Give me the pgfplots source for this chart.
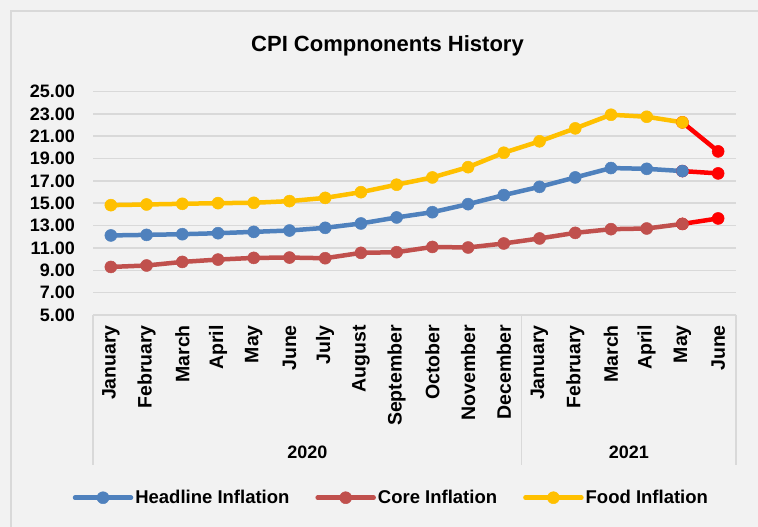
\documentclass[border=0pt]{standalone}
\usepackage{pgfplots}
\pgfplotsset{compat=1.18}
\usepackage{fontspec}
\setmainfont{Liberation Sans}
\definecolor{bg}{HTML}{F2F2F2}
\definecolor{gridc}{HTML}{D9D9D9}
\definecolor{cblue}{HTML}{4F81BD}
\definecolor{cred}{HTML}{C0504D}
\definecolor{cyel}{HTML}{FFC000}
\definecolor{hot}{HTML}{FF0000}
\begin{document}
\begin{tikzpicture}[x=1pt,y=1pt]
\useasboundingbox (0,0) rectangle (758,527);
\fill[bg] (0,0) rectangle (758,527);
\draw[gridc, line width=1.5pt] (11,-10) rectangle (780,516);
\node[font=\bfseries\fontsize{22}{26}\selectfont] at (387.5,481) {CPI Compnonents History};
\begin{axis}[
  at={(93pt,212pt)}, anchor=south west,
  width=643pt, height=223.5pt, scale only axis,
  xmin=-0.5, xmax=17.5, ymin=5, ymax=25,
  ytick={5,7,...,25},
  xtick={0,...,17},
  xticklabels={January,February,March,April,May,June,July,August,September,October,November,December,January,February,March,April,May,June},
  axis x line*=bottom, axis y line*=left,
  y axis line style={draw=none},
  x axis line style={gridc, line width=1.5pt},
  major tick length=0pt,
  ymajorgrids, major grid style={gridc, line width=1.5pt},
  xticklabel style={rotate=90, anchor=east, inner sep=0pt, font=\bfseries\fontsize{19.5}{21}\selectfont},
  xticklabel shift=10pt,
  yticklabel style={anchor=east, inner sep=0pt, font=\bfseries\fontsize{18}{20}\selectfont},
  yticklabel shift=18pt,
  /pgf/number format/.cd, fixed, fixed zerofill, precision=2, assume math mode=true,
  /pgfplots/.cd,
  clip=false,
  legend columns=3,
  legend style={draw=none, fill=none, at={(0.464,-0.8175)}, anchor=center,
    font=\bfseries\fontsize{18.5}{20}\selectfont,
    /tikz/every even column/.append style={column sep=24pt}},
  legend image code/.code={\draw[mark repeat=2,mark phase=2,#1] plot coordinates {(0pt,0pt) (28pt,0pt) (56pt,0pt)};},
  every axis plot/.append style={line width=4.5pt, line join=round, line cap=round, mark=*, mark size=6pt, mark options={line width=0.5pt}},
]
\addplot[hot, forget plot] coordinates {(16,17.88) (17,17.67)};
\addplot[hot, forget plot] coordinates {(16,13.15) (17,13.64)};
\addplot[hot, forget plot] coordinates {(16,22.24) (17,19.64)};
\addplot[cblue] coordinates {(0,12.12) (1,12.17) (2,12.23) (3,12.32) (4,12.44) (5,12.56) (6,12.80) (7,13.19) (8,13.73) (9,14.20) (10,14.92) (11,15.73) (12,16.47) (13,17.31) (14,18.15) (15,18.08) (16,17.88)};
\addlegendentry{Headline Inflation}
\addplot[cred] coordinates {(0,9.30) (1,9.43) (2,9.75) (3,9.96) (4,10.11) (5,10.14) (6,10.08) (7,10.56) (8,10.62) (9,11.09) (10,11.04) (11,11.40) (12,11.85) (13,12.35) (14,12.68) (15,12.74) (16,13.15)};
\addlegendentry{Core Inflation}
\addplot[cyel] coordinates {(0,14.83) (1,14.89) (2,14.95) (3,15.01) (4,15.04) (5,15.19) (6,15.48) (7,15.99) (8,16.66) (9,17.31) (10,18.23) (11,19.52) (12,20.54) (13,21.70) (14,22.92) (15,22.74) (16,22.24)};
\addlegendentry{Food Inflation}
\draw[gridc, line width=1.5pt] (axis cs:-0.5,5) -- ++(0pt,-150pt);
\draw[gridc, line width=1.5pt] (axis cs:11.5,5) -- ++(0pt,-150pt);
\draw[gridc, line width=1.5pt] (axis cs:17.5,5) -- ++(0pt,-150pt);
\node[font=\bfseries\fontsize{18}{20}\selectfont, yshift=-137pt] at (axis cs:5.5,5) {2020};
\node[font=\bfseries\fontsize{18}{20}\selectfont, yshift=-137pt] at (axis cs:14.5,5) {2021};
\end{axis}
\end{tikzpicture}
\end{document}
